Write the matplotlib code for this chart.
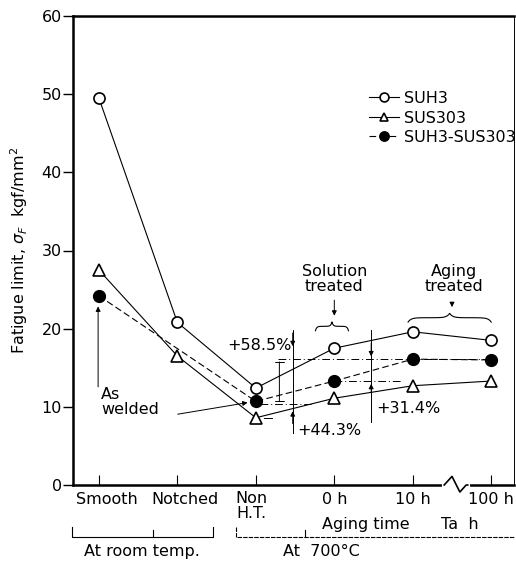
import numpy as np
import matplotlib
matplotlib.use("Agg")
import matplotlib.pyplot as plt

# --- data -----------------------------------------------------------------
conditions = ["Smooth", "Notched", "Non\nH.T.", "0 h", "10 h", "100 h"]
pos = np.arange(len(conditions))

suh3 = [49.5, 20.8, 12.4, 17.5, 19.6, 18.5]
sus303 = [27.5, 16.5, 8.6, 11.1, 12.7, 13.3]
# welded joint: no notched specimen
welded_pos = [0, 2, 3, 4, 5]
welded = [24.2, 10.7, 13.3, 16.1, 16.0]

yticks = [0, 10, 20, 30, 40, 50, 60]

plt.rcParams["font.family"] = "DejaVu Sans"
FS = 11.5


def brace(ax, x0, x1, y, h=0.8):
    # curly brace: ends hook down, middle tip points up
    t = np.linspace(0, 1, 121)
    xs = x0 + (x1 - x0) * t
    u = np.where(t < 0.5, t / 0.5, (1 - t) / 0.5)
    ys = y - h * 0.7 * np.exp(-u * 14) + h * 0.7 * np.exp(-(1 - u) * 14)
    ax.plot(xs, ys, color="black", lw=0.8)


fig = plt.figure(figsize=(5.16, 5.63), dpi=100)
ax = fig.add_axes([73 / 516, 78 / 563, 441 / 516, 469 / 563])

ax.plot(pos, suh3, "-", color="black", lw=0.8, marker="o", ms=8,
        mfc="white", mec="black", mew=1.2, label="SUH3", zorder=3)
ax.plot(pos, sus303, "-", color="black", lw=0.8, marker="^", ms=8,
        mfc="white", mec="black", mew=1.2, label="SUS303", zorder=3)
ax.plot(welded_pos, welded, "--", color="black", lw=0.8, marker="o", ms=8.5,
        mfc="black", mec="black", label="SUH3-SUS303", dashes=(6, 3), zorder=3)

# dash-dot reference levels
dd = (0, (8, 3, 1, 3))
ax.plot([2.28, 5.0], [welded[3], welded[3]], color="black", lw=0.7, ls=dd)
ax.plot([3.0, 3.85], [welded[2], welded[2]], color="black", lw=0.7, ls=dd)
ax.plot([2.05, 2.7], [welded[1] - 0.3, welded[1] - 0.3], color="black", lw=0.7, ls=dd)
ax.plot([2.1, 2.2], [sus303[2], sus303[2]], color="black", lw=0.7)

arr = dict(arrowstyle="-|>", color="black", lw=0.7, mutation_scale=7)

# +58.5 % dimension
ax.annotate("", xy=(2.30, welded[3]), xytext=(2.30, welded[1] - 0.3),
            arrowprops=dict(arrowstyle="|-|", color="black", lw=0.7, mutation_scale=3))
ax.text(1.63, 17.9, "+58.5%", fontsize=FS, va="center", ha="left")

# +44.3 % dimension
ax.plot([2.47, 2.47], [6.6, 19.8], color="black", lw=0.7)
ax.annotate("", xy=(2.47, 17.4), xytext=(2.47, 19.8), arrowprops=arr)
ax.annotate("", xy=(2.47, 9.8), xytext=(2.47, 7.5), arrowprops=arr)
ax.text(2.53, 7.0, "+44.3%", fontsize=FS, va="center", ha="left")

# +31.4 % dimension
ax.plot([3.47, 3.47], [8.0, 19.8], color="black", lw=0.7)
ax.annotate("", xy=(3.47, welded[3]), xytext=(3.47, 18.5), arrowprops=arr)
ax.annotate("", xy=(3.47, welded[2]), xytext=(3.47, 11.5), arrowprops=arr)
ax.text(3.53, 9.8, "+31.4%", fontsize=FS, va="center", ha="left")

# As welded
ax.text(0.03, 10.6, "As\nwelded", fontsize=FS, va="center", ha="left", linespacing=1.0)
ax.annotate("", xy=(-0.01, 23.2), xytext=(-0.01, 12.2), arrowprops=arr)
ax.annotate("", xy=(1.93, welded[1] - 0.1), xytext=(0.97, 9.0), arrowprops=arr)

# Solution / Aging treated labels with braces
ax.text(3.0, 26.4, "Solution\ntreated", fontsize=FS, ha="center", va="center", linespacing=1.0)
ax.annotate("", xy=(3.0, 21.3), xytext=(3.0, 24.0), arrowprops=arr)
brace(ax, 2.76, 3.18, 20.3)
ax.text(4.52, 26.4, "Aging\ntreated", fontsize=FS, ha="center", va="center", linespacing=1.0)
ax.annotate("", xy=(4.5, 22.4), xytext=(4.5, 23.6), arrowprops=arr)
brace(ax, 3.94, 5.0, 21.4)

# axis cosmetics
ax.set_xlim(-0.33, 5.29)
ax.set_ylim(0, 60)
ax.set_yticks(yticks)
ax.tick_params(axis="y", direction="out", length=7, width=1, labelsize=FS, pad=1)
ax.set_xticks(pos)
ax.set_xticklabels([])
ax.tick_params(axis="x", direction="in", length=7, width=0.8)
for side in ["left", "bottom", "top"]:
    ax.spines[side].set_linewidth(1.8)
ax.spines["right"].set_linewidth(0.7)
ax.set_ylabel(r"Fatigue limit, $\sigma_F$  kgf/mm$^2$", fontsize=FS, labelpad=8)

# axis break zigzag between 10 h and 100 h
ax.plot([4.40, 4.70], [0, 0], color="white", lw=3, clip_on=False, zorder=4)
ax.plot([4.40, 4.50, 4.60, 4.68, 4.70], [0, 1.1, -0.9, 0, 0], color="black", lw=1.2,
        clip_on=False, zorder=5)

# category labels below axis
trans = ax.get_xaxis_transform()
for p, lab in zip(pos, conditions):
    if lab.startswith("Non"):
        ax.text(p - 0.05, -0.012, lab, transform=trans, ha="center", va="top",
                fontsize=FS, linespacing=1.05)
    else:
        ax.text(p + (0.1 if p < 2 else 0), -0.015, lab, transform=trans, ha="center",
                va="top", fontsize=FS)
ax.text(3.4, -0.068, "Aging time", transform=trans, ha="center", va="top", fontsize=FS)
ax.text(4.6, -0.068, "Ta  h", transform=trans, ha="center", va="top", fontsize=FS)

# brackets
brk = dict(color="black", lw=0.8, transform=trans, clip_on=False)
ax.plot([-0.34, -0.34, 1.45, 1.45], [-0.09, -0.11, -0.11, -0.09], **brk)
ax.plot([0.69, 0.69], [-0.095, -0.11], **brk)
ax.plot([1.75, 1.75, 5.29], [-0.09, -0.11, -0.11], ls=(0, (4, 1)), **brk)
ax.plot([2.63, 2.63], [-0.11, -0.095], **brk)
ax.text(0.55, -0.125, "At room temp.", transform=trans, ha="center", va="top", fontsize=FS)
ax.text(2.35, -0.125, "At  700°C", transform=trans, ha="left", va="top", fontsize=FS)

leg = ax.legend(loc="upper left", bbox_to_anchor=(0.652, 0.857), frameon=False,
                fontsize=FS, handlelength=1.9, handletextpad=0.35,
                labelspacing=0.28, borderpad=0, markerscale=0.8)

fig.savefig("out.png", dpi=100)
